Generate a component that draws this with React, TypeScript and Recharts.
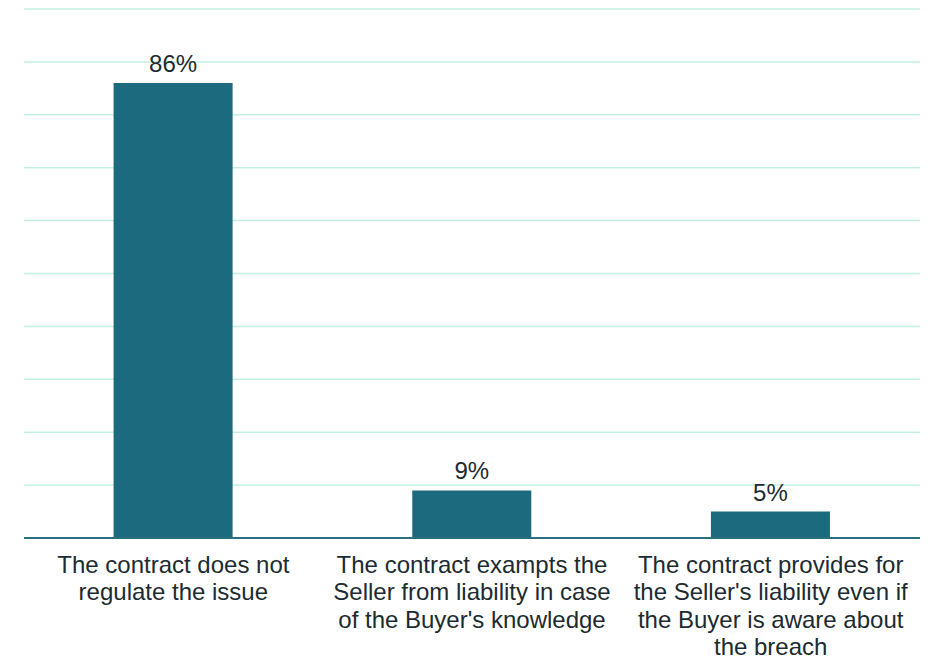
import React from 'react';
import { BarChart, Bar, XAxis, YAxis, CartesianGrid, LabelList } from 'recharts';

const categories = ['c1', 'c2', 'c3'];
const shares = [86, 9, 5];
const tickLabels = [
  ['The contract does not', 'regulate the issue'],
  ['The contract exampts the', 'Seller from liability in case', "of the Buyer's knowledge"],
  ['The contract provides for', "the Seller's liability even if", 'the Buyer is aware about', 'the breach'],
];
const yTicks = [0, 10, 20, 30, 40, 50, 60, 70, 80, 90, 100];

const data = categories.map((c, i) => ({ key: c, value: shares[i] }));

const FONT = '"Liberation Sans", Arial, sans-serif';
const TEXT = '#1c2b31';

function WrappedTick({ x, y, index }: any) {
  const lines = tickLabels[index] || [];
  return (
    <g transform={`translate(${x},${y})`}>
      {lines.map((line, i) => (
        <text
          key={i}
          x={0}
          y={35 + i * 27.3}
          textAnchor="middle"
          fill={TEXT}
          fontSize={24}
          fontFamily={FONT}
        >
          {line}
        </text>
      ))}
    </g>
  );
}

export default function App() {
  return (
    <div style={{ width: 925, height: 651, background: '#fff' }}>
      <BarChart
        width={925}
        height={651}
        data={data}
        margin={{ top: 1, right: 13, left: 16, bottom: 0 }}
        barCategoryGap="30%"
      >
        <CartesianGrid horizontal vertical={false} stroke="#c3efe2" strokeWidth={1.5} />
        <YAxis hide domain={[0, 100]} ticks={yTicks} />
        <XAxis
          dataKey="key"
          height={121}
          axisLine={{ stroke: '#2a6f80', strokeWidth: 2 }}
          tickLine={false}
          tickSize={0}
          tickMargin={0}
          interval={0}
          tick={<WrappedTick />}
        />
        <Bar dataKey="value" fill="#1b6a7d" isAnimationActive={false}>
          <LabelList
            dataKey="value"
            position="top"
            offset={11}
            formatter={(v: any) => `${v}%`}
            style={{ fontSize: 24, fontFamily: FONT, fill: TEXT }}
          />
        </Bar>
      </BarChart>
    </div>
  );
}
